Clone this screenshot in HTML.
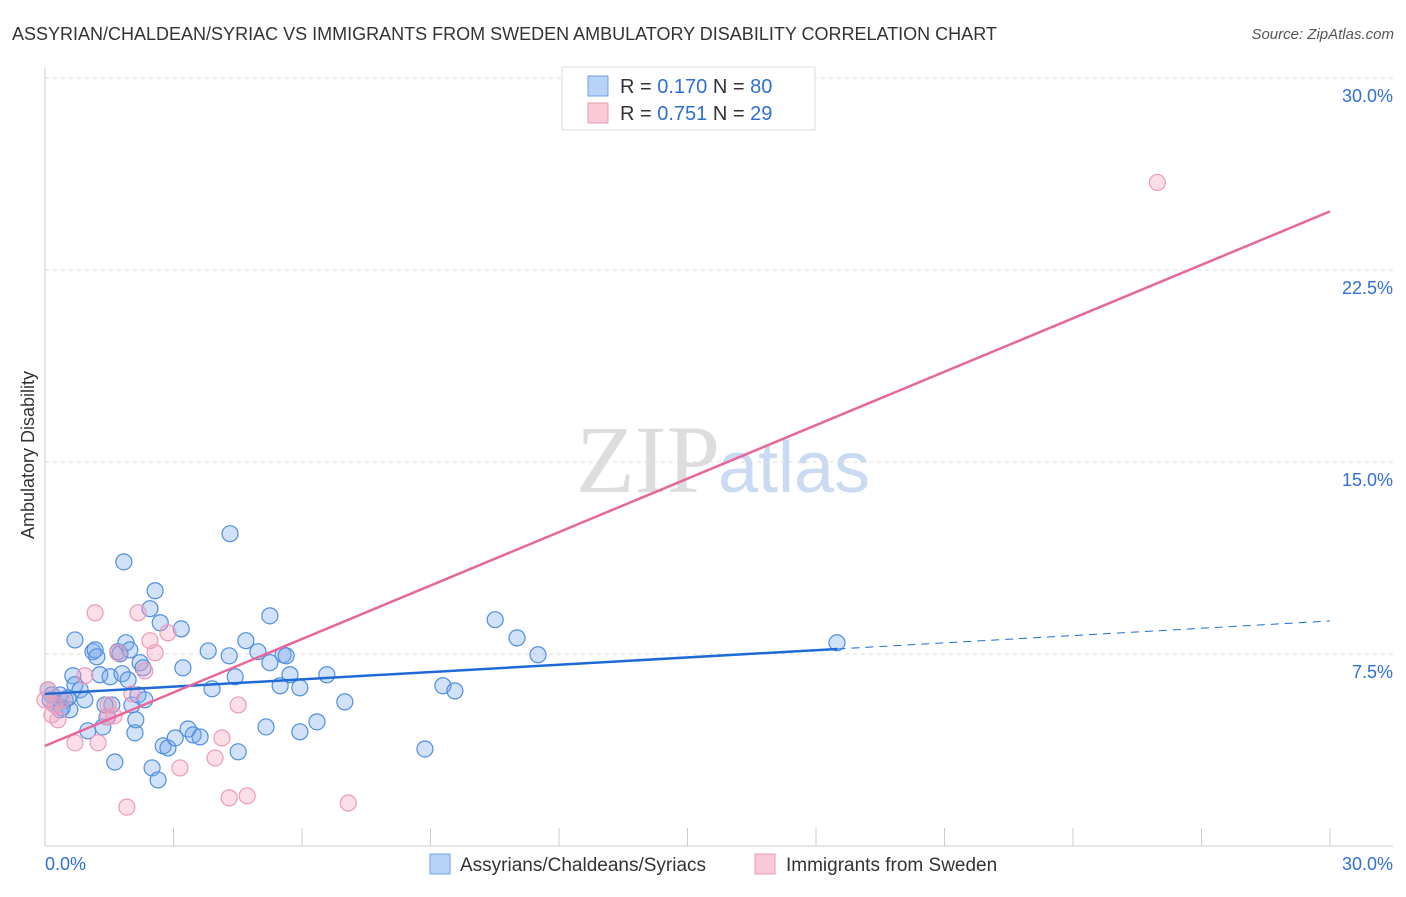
<!DOCTYPE html>
<html><head><meta charset="utf-8"><style>
body{margin:0;background:#fff;font-family:"Liberation Sans",sans-serif}
</style></head><body>
<svg id="c" width="1406" height="892" xmlns="http://www.w3.org/2000/svg" style="font-family:'Liberation Sans',sans-serif">
<text x="12" y="40" font-size="18" fill="#333">ASSYRIAN/CHALDEAN/SYRIAC VS IMMIGRANTS FROM SWEDEN AMBULATORY DISABILITY CORRELATION CHART</text>
<text x="1394" y="39" font-size="15" fill="#555" font-style="italic" text-anchor="end">Source: ZipAtlas.com</text>
<text x="720" y="492" font-size="96" fill="#ddd" font-family="Liberation Serif,serif" text-anchor="end">ZIP</text>
<text x="718" y="492" font-size="72" fill="#c9daf2">atlas</text>
<text transform="translate(34,455) rotate(-90)" font-size="18" fill="#333" text-anchor="middle">Ambulatory Disability</text>
<g id="grid"></g><g id="pts"></g><g id="lines"></g>
<g>
<rect x="562" y="67" width="253" height="63" fill="#fff" stroke="#ddd"/>
<rect x="588" y="76" width="20" height="20" fill="#b9d3f7" stroke="#6f9fe0"/>
<rect x="588" y="103" width="20" height="20" fill="#f9c9d8" stroke="#eb9bb5"/>
<text x="620" y="93" font-size="20" fill="#333">R = <tspan fill="#2f6fd6">0.170</tspan>   N = <tspan fill="#2f6fd6">80</tspan></text>
<text x="620" y="120" font-size="20" fill="#333">R = <tspan fill="#2f6fd6">0.751</tspan>   N = <tspan fill="#2f6fd6">29</tspan></text>
</g>
<g>
<rect x="430" y="854" width="20" height="20" fill="#b9d3f7" stroke="#6f9fe0"/>
<text x="460" y="871" font-size="19" fill="#333">Assyrians/Chaldeans/Syriacs</text>
<rect x="755" y="854" width="20" height="20" fill="#f9c9d8" stroke="#eb9bb5"/>
<text x="786" y="871" font-size="19" fill="#333">Immigrants from Sweden</text>
</g>
</svg>
<script>
const blueX=[0.16,0.12,0.23,0.35,0.47,0.58,0.07,0.70,0.65,0.70,0.82,0.93,1.00,1.12,1.17,1.21,1.28,1.35,1.45,1.52,1.56,1.63,1.70,1.75,1.80,1.84,1.89,1.94,2.03,2.10,2.12,2.17,2.22,2.29,2.45,2.50,2.57,2.64,2.69,2.76,2.87,3.04,3.18,3.22,3.34,3.46,3.62,3.81,3.90,4.32,4.30,4.44,4.51,4.69,4.97,5.16,5.25,5.25,5.49,5.56,5.63,5.72,5.95,5.95,6.35,6.58,7.00,8.87,9.29,9.57,10.51,11.02,11.51,18.49,0.40,0.54,1.40,1.98,2.33,0.35];
const blueY=[5.90,5.71,5.51,5.32,5.71,5.32,6.10,8.05,6.65,6.30,6.10,5.71,4.50,7.59,7.66,7.39,6.69,4.65,5.04,6.61,5.51,3.28,7.59,7.51,6.73,11.10,7.94,6.49,5.51,4.42,4.93,5.90,7.16,6.96,9.27,3.05,9.97,2.58,8.72,3.91,3.83,4.22,8.48,6.96,4.57,4.34,4.26,7.62,6.14,12.20,7.43,6.61,3.68,8.02,7.59,4.65,8.99,7.16,6.26,7.47,7.43,6.69,6.18,4.46,4.85,6.69,5.63,3.79,6.26,6.06,8.84,8.13,7.47,7.94,5.40,5.79,5.51,7.66,5.71,5.90];
const pinkX=[0.07,0.16,0.30,0.40,0.93,1.17,1.24,0.70,1.47,1.61,1.70,1.91,2.03,2.17,2.33,2.45,2.57,2.87,3.15,3.97,4.13,4.30,4.51,4.72,7.08,25.97,1.47,0.23,0];
const pinkY=[6.10,5.12,4.93,5.71,6.65,9.11,4.03,4.03,5.04,5.08,7.55,1.52,5.94,9.11,6.84,8.02,7.55,8.33,3.05,3.44,4.22,1.88,5.51,1.96,1.68,25.92,5.51,5.51,5.71];
const yTicks=[7.5,15,22.5,30];
const yTickLabels=["7.5%","15.0%","22.5%","30.0%"];
const xTicks=[0,3,6,9,12,15,18,21,24,27,30];
const blueTrend=[5.94,8.79];const blueSolidEnd=18.5;
const pinkTrend=[3.91,24.79];
const X=v=>45+v*1285/30, Y=v=>846-v*768/30;
const NS="http://www.w3.org/2000/svg";
function mk(t,a,p){const e=document.createElementNS(NS,t);for(const k in a)e.setAttribute(k,a[k]);p.appendChild(e);return e;}
const g=document.getElementById('grid');
yTicks.forEach((t,i)=>{
 const l=mk('line',{x1:45,x2:1393,y1:Y(t),y2:Y(t),stroke:'#ddd','stroke-dasharray':'4,4'},g);
 
 
 const tx=mk('text',{x:1393,y:Y(t)+24,'font-size':18,fill:'#2f6fd6','text-anchor':'end'},g);tx.textContent=yTickLabels[i];
 
 
});
const ax=mk('line',{x1:45,x2:1393,y1:846,y2:846,stroke:'#ccc'},g);


const ay=mk('line',{x1:45,x2:45,y1:68,y2:846,stroke:'#ccc'},g);


xTicks.forEach(t=>{const l=mk('line',{x1:X(t),x2:X(t),y1:828,y2:846,stroke:'#ccc'},g);
 
 });
const x0=mk('text',{x:45,y:870,'font-size':18,fill:'#2f6fd6'},g);x0.textContent='0.0%';


const x1=mk('text',{x:1393,y:870,'font-size':18,fill:'#2f6fd6','text-anchor':'end'},g);x1.textContent='30.0%';


const p=document.getElementById('pts');
blueX.forEach((x,i)=>{const c=mk('circle',{cx:X(x),cy:Y(blueY[i]),r:8,fill:'rgba(120,168,234,0.35)',stroke:'#4f8ee0','stroke-width':1.2},p);
 
 });
pinkX.forEach((x,i)=>{const c=mk('circle',{cx:X(x),cy:Y(pinkY[i]),r:8,fill:'rgba(244,160,188,0.35)',stroke:'#ee9ab6','stroke-width':1.2},p);
 
 });
const L=document.getElementById('lines');
const by=x=>blueTrend[0]+(blueTrend[1]-blueTrend[0])*x/30;
const b1=mk('line',{x1:X(0),y1:Y(by(0)),x2:X(blueSolidEnd),y2:Y(by(blueSolidEnd)),stroke:'#1f6ad6','stroke-width':2.5},L);


const b2=mk('line',{x1:X(blueSolidEnd),y1:Y(by(blueSolidEnd)),x2:X(30),y2:Y(by(30)),stroke:'#1f6ad6','stroke-width':1,'stroke-dasharray':'8,6'},L);


const pl=mk('line',{x1:X(0),y1:Y(pinkTrend[0]),x2:X(30),y2:Y(pinkTrend[1]),stroke:'#e8679a','stroke-width':2.5},L);


</script>
</body></html>
